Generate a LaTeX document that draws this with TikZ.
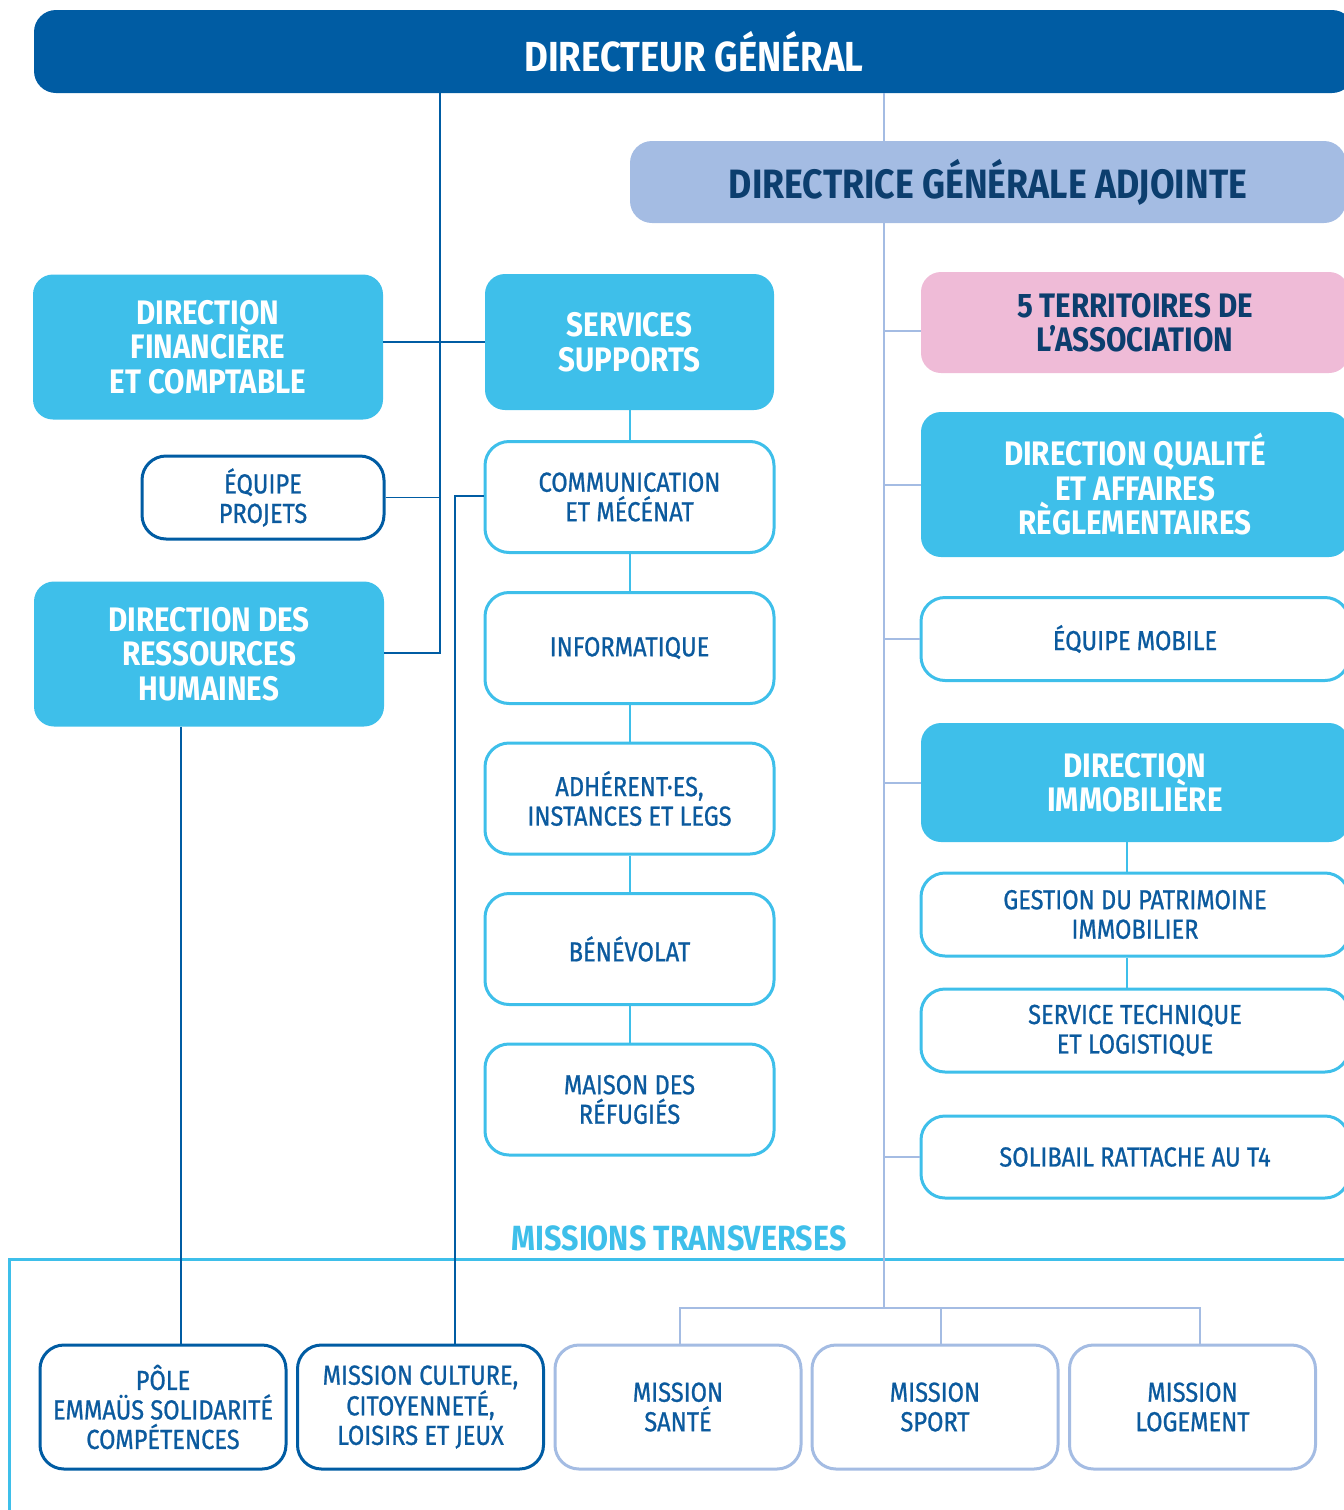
\documentclass[tikz,border=0pt]{standalone}
\usepackage{fontspec}
\setmainfont{Fira Sans}[FakeStretch=0.87]
\newfontfamily\bodyfam{Fira Sans}[FakeStretch=0.86, FakeBold=0.8]
\definecolor{dgblue}{HTML}{005CA3}
\definecolor{skyblue}{HTML}{3EBFEA}
\definecolor{lavblue}{HTML}{A4BCE3}
\definecolor{pinkbox}{HTML}{EFBBD7}
\definecolor{navytxt}{HTML}{0C3E6E}
\definecolor{bodytxt}{HTML}{0B5A9E}

\begin{document}
\begin{tikzpicture}[x=1pt, y=-1pt,
  every node/.style={align=center, inner sep=0pt},
  headfont/.style={font=\bfseries\fontsize{34}{34.5}\selectfont},
  bodyfont/.style={font=\bodyfam\fontsize{27.5}{29.5}\selectfont},
  fullbox/.style={headfont, fill=skyblue, text=white, rounded corners=20pt},
  linebox/.style={bodyfont, draw=skyblue, line width=3pt, fill=white, text=bodytxt, rounded corners=24pt},
  colbox/.style={minimum width=289, minimum height=111},
  rightbox/.style={minimum width=428},
  missbox/.style={linebox, minimum width=246, minimum height=124},
  dkline/.style={draw=dgblue, line width=1.5pt},
  skyline/.style={draw=skyblue, line width=2pt},
  lavline/.style={draw=lavblue, line width=2pt}]
  \useasboundingbox (0,0) rectangle (1344,1510);
  \clip (0,0) rectangle (1344,1510);

  % Top of the chart
  \node[fill=dgblue, text=white, rounded corners=22pt, minimum width=1320, minimum height=83,
        font=\bfseries\fontsize{42}{42}\selectfont] (dg) at (694,51.5) {DIRECTEUR GÉNÉRAL};
  \node[fill=lavblue, text=navytxt, rounded corners=22pt, minimum width=716, minimum height=82,
        font=\bfseries\fontsize{41}{41}\selectfont] (dga) at (988,182) {DIRECTRICE GÉNÉRALE ADJOINTE};

  % Left column
  \node[fullbox, minimum width=350, minimum height=145] (dfc) at (208,347) {DIRECTION\\FINANCIÈRE\\ET COMPTABLE};
  \node[linebox, draw=dgblue, minimum width=242, minimum height=83] (eqp) at (263,497.5) {ÉQUIPE\\PROJETS};
  \node[fullbox, minimum width=350, minimum height=145] (drh) at (209,654) {DIRECTION DES\\RESSOURCES\\HUMAINES};

  % Services supports
  \node[fullbox, minimum width=289, minimum height=136] (ss) at (629.5,342) {SERVICES\\SUPPORTS};
  \node[linebox, colbox] (com) at (629.5,497) {COMMUNICATION\\ET MÉCÉNAT};
  \node[linebox, colbox] (info) at (629.5,648) {INFORMATIQUE};
  \node[linebox, colbox] (adh) at (629.5,798.5) {ADHÉRENT·ES,\\INSTANCES ET LEGS};
  \node[linebox, colbox] (ben) at (629.5,949) {BÉNÉVOLAT};
  \node[linebox, colbox] (mai) at (629.5,1099.5) {MAISON DES\\RÉFUGIÉS};

  % Right column
  \node[headfont, rightbox, fill=pinkbox, text=navytxt, rounded corners=20pt, minimum height=101] (ter) at (1135,322.5) {5 TERRITOIRES DE\\L’ASSOCIATION};
  \node[fullbox, rightbox, minimum height=145] (dqar) at (1135,484.5) {DIRECTION QUALITÉ\\ET AFFAIRES\\RÈGLEMENTAIRES};
  \node[linebox, rightbox, minimum height=83] (eqm) at (1135,639) {ÉQUIPE MOBILE};
  \node[fullbox, rightbox, minimum height=119] (dim) at (1135,782.5) {DIRECTION\\IMMOBILIÈRE};
  \node[linebox, rightbox, minimum height=83] (gest) at (1135,914.5) {GESTION DU PATRIMOINE\\IMMOBILIER};
  \node[linebox, rightbox, minimum height=83] (stl) at (1135,1030.5) {SERVICE TECHNIQUE\\ET LOGISTIQUE};
  \node[linebox, rightbox, minimum height=82] (sol) at (1135,1157) {SOLIBAIL RATTACHE AU T4};

  % Missions transverses
  \node[text=skyblue, font=\bfseries\fontsize{35}{35}\selectfont] (mt) at (679,1238) {MISSIONS TRANSVERSES};
  \draw[skyblue, line width=3pt] (1350,1259) -- (9,1259) -- (9,1520);
  \node[missbox, draw=dgblue] (pole) at (163,1407) {PÔLE\\EMMAÜS SOLIDARITÉ\\COMPÉTENCES};
  \node[missbox, draw=dgblue] (cult) at (420.5,1407) {MISSION CULTURE,\\CITOYENNETÉ,\\LOISIRS ET JEUX};
  \node[missbox, draw=lavblue] (sante) at (678,1407) {MISSION\\SANTÉ};
  \node[missbox, draw=lavblue] (sport) at (935,1407) {MISSION\\SPORT};
  \node[missbox, draw=lavblue] (loge) at (1192.5,1407) {MISSION\\LOGEMENT};

  % Links of the directeur
  \coordinate (ls) at (440,653);
  \coordinate (cx) at (455,496);
  \coordinate (px) at (181,0);
  \draw[dkline] (dg.south -| ls) -- (ls) -- (drh.east |- ls);
  \draw[dkline] (dfc.east |- ss.west) -- (ss.west);
  \draw[dkline] (eqp.east) -- (eqp.east -| ls);
  \draw[dkline] (com.west |- cx) -- (cx) -- (cult.north -| cx);
  \draw[dkline] (drh.south -| px) -- (pole.north -| px);
  \foreach \a/\b in {ss/com, com/info, info/adh, adh/ben, ben/mai}
    \draw[skyline] (\a.south) -- (\b.north);

  % Links of the directrice
  \coordinate (rs) at (884,1308);
  \coordinate (ix) at (1127,0);
  \draw[lavline] (dg.south -| rs) -- (dga.north -| rs);
  \draw[lavline] (dga.south -| rs) -- (rs);
  \draw[lavline] ([yshift=-8pt]ter.west) -- ([yshift=-8pt]ter.west -| rs);
  \foreach \n in {dqar, eqm, dim, sol}
    \draw[lavline] (\n.west) -- (\n.west -| rs);
  \draw[skyline] (dim.south -| ix) -- (gest.north -| ix);
  \draw[skyline] (gest.south -| ix) -- (stl.north -| ix);
  \draw[lavline] ([xshift=2pt]sante.north) |- ([xshift=7.5pt]loge.north |- rs) -- ([xshift=7.5pt]loge.north);
  \draw[lavline] ([xshift=6pt]sport.north) -- ([xshift=6pt]sport.north |- rs);
\end{tikzpicture}
\end{document}
